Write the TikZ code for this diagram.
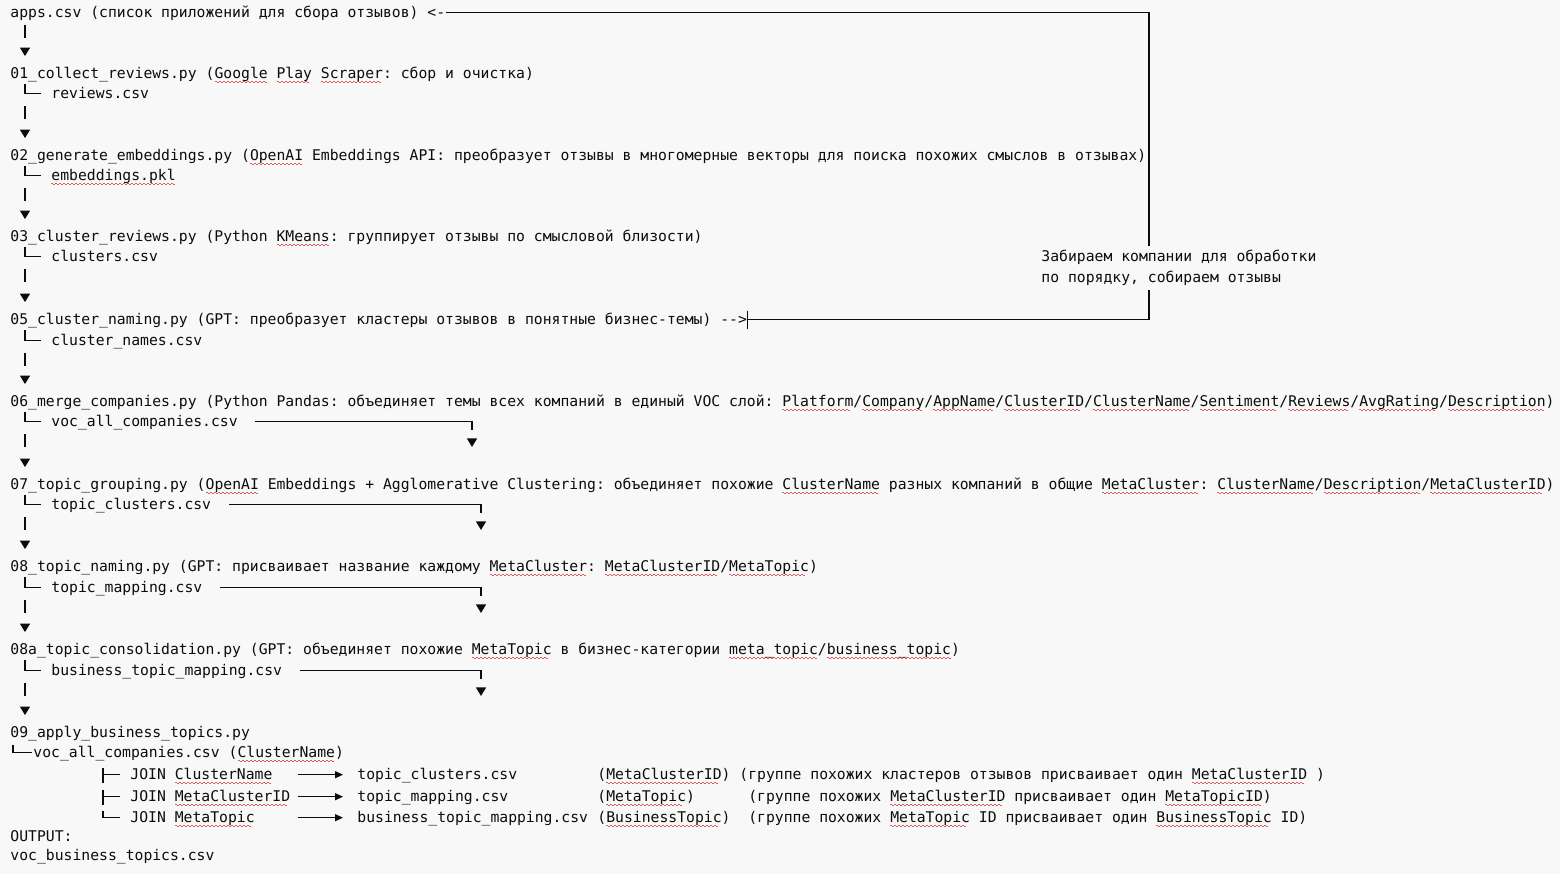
\documentclass[tikz,border=0pt]{standalone}
\usepackage{fontspec}
\usepackage{tikz}
\usetikzlibrary{arrows.meta, calc}

\newfontfamily\codefont{DejaVu Sans Mono}
\definecolor{paper}{HTML}{F8F8F8}
\definecolor{ink}{HTML}{0C0C0C}
\definecolor{spellred}{HTML}{E05A5A}

% red spell-check squiggle under a word
\newsavebox\typobox
\newcommand\typo[1]{\sbox\typobox{#1}\rlap{\textcolor{spellred}{\leaders\hbox to 2pt{\vrule width 1pt height -1.5pt depth 2pt\vrule width 1pt height -2pt depth 2.5pt}\hskip\wd\typobox}}\usebox\typobox}

\begin{document}
\begin{tikzpicture}[
  x=0.5pt, y=-0.5pt,
  codeline/.style={anchor=base west, inner sep=0pt, text height=5.5pt, text depth=1.8pt, text=ink, font=\codefont\fontsize{7.37pt}{9pt}\selectfont\frenchspacing},
  note/.style={codeline, fill=paper, inner ysep=2pt, inner xsep=1pt},
  flow/.style={-{Triangle[width=5pt, length=4.3pt]}, line width=0.75pt, ink, dash pattern=on 6.5pt off 40pt, shorten <=2pt, shorten >=5.25pt},
  branch/.style={line width=0.7pt, ink},
  sideflow/.style={{Triangle[width=5pt, length=4.3pt]}-, line width=0.6pt, ink, dash pattern=on 2000pt off 4.5pt, dash phase=2000pt},
  loopline/.style={line width=0.6pt, ink},
  joinarrow/.style={-{Triangle[width=3.5pt, length=4pt]}, line width=0.6pt, ink, shorten >=7pt}
]
  \fill[paper] (0,0) rectangle (1560,874);
  \useasboundingbox (0,0) rectangle (1560,874);

  % pipeline scripts and their outputs
  \node[codeline] (apps) at (10,17) {apps.csv (список приложений для сбора отзывов) <-};
  \node[codeline] (s01) at (10,78) {01\_collect\_reviews.py (\typo{Google} \typo{Play} \typo{Scraper}: сбор и очистка)};
  \node[codeline] (f01) at (51,98) {reviews.csv};
  \node[codeline] (s02) at (10,160) {02\_generate\_embeddings.py (\typo{OpenAI} Embeddings API: преобразует отзывы в многомерные векторы для поиска похожих смыслов в отзывах)};
  \node[codeline] (f02) at (51,180) {\typo{embeddings.pkl}};
  \node[codeline] (s03) at (10,241) {03\_cluster\_reviews.py (Python \typo{KMeans}: группирует отзывы по смысловой близости)};
  \node[codeline] (f03) at (51,261) {clusters.csv};
  \node[codeline] (s05) at (10,324) {05\_cluster\_naming.py (GPT: преобразует кластеры отзывов в понятные бизнес-темы) -{}->};
  \node[codeline] (f05) at (51,345) {cluster\_names.csv};
  \node[codeline] (s06) at (10,406) {06\_merge\_companies.py (Python Pandas: объединяет темы всех компаний в единый VOC слой: \typo{Platform}/\typo{Company}/\typo{AppName}/\typo{ClusterID}/\typo{ClusterName}/\typo{Sentiment}/\typo{Reviews}/\typo{AvgRating}/\typo{Description})};
  \node[codeline] (f06) at (51,426) {voc\_all\_companies.csv};
  \node[codeline] (s07) at (10,489) {07\_topic\_grouping.py (\typo{OpenAI} Embeddings + Agglomerative Clustering: объединяет похожие \typo{ClusterName} разных компаний в общие \typo{MetaCluster}: \typo{ClusterName}/\typo{Description}/\typo{MetaClusterID})};
  \node[codeline] (f07) at (51,509) {topic\_clusters.csv};
  \node[codeline] (s08) at (10,571) {08\_topic\_naming.py (GPT: присваивает название каждому \typo{MetaCluster}: \typo{MetaClusterID}/\typo{MetaTopic})};
  \node[codeline] (f08) at (51,592) {topic\_mapping.csv};
  \node[codeline] (s08a) at (10,654) {08a\_topic\_consolidation.py (GPT: объединяет похожие \typo{MetaTopic} в бизнес-категории \typo{meta\_topic}/\typo{business\_topic})};
  \node[codeline] (f08a) at (51,675) {business\_topic\_mapping.csv};
  \node[codeline] (s09) at (10,737) {09\_apply\_business\_topics.py};
  \node[codeline] (f09) at (33,757) {voc\_all\_companies.csv (\typo{ClusterName})};

  % joins
  \node[codeline] (j1) at (130,779) {JOIN \typo{ClusterName}};
  \node[codeline] (j2) at (130,801) {JOIN \typo{MetaClusterID}};
  \node[codeline] (j3) at (130,822) {JOIN \typo{MetaTopic}};
  \node[codeline] (t1) at (357,779) {topic\_clusters.csv};
  \node[codeline] (t2) at (357,801) {topic\_mapping.csv};
  \node[codeline] (t3) at (357,822) {business\_topic\_mapping.csv};
  \node[codeline] (k1) at (597,779) {(\typo{MetaClusterID}) (группе похожих кластеров отзывов присваивает один \typo{MetaClusterID} )};
  \node[codeline] (k2) at (597,801) {(\typo{MetaTopic})~~~~~~(группе похожих \typo{MetaClusterID} присваивает один \typo{MetaTopicID})};
  \node[codeline] (k3) at (597,822) {(\typo{BusinessTopic})~~(группе похожих \typo{MetaTopic} ID присваивает один \typo{BusinessTopic} ID)};
  \node[codeline] (out) at (10,841) {OUTPUT:};
  \node[codeline] (res) at (10,860) {voc\_business\_topics.csv};

  % main flow down the left side
  \coordinate (fx) at (25,0);
  \draw[flow] (fx |- apps.south) -- (fx |- s01.north);
  \draw[flow] (fx |- f01.south) -- (fx |- s02.north);
  \draw[flow] (fx |- f02.south) -- (fx |- s03.north);
  \draw[flow] (fx |- f03.south) -- (fx |- s05.north);
  \draw[flow] (fx |- f05.south) -- (fx |- s06.north);
  \draw[flow] (fx |- f06.south) -- (fx |- s07.north);
  \draw[flow] (fx |- f07.south) -- (fx |- s08.north);
  \draw[flow] (fx |- f08.south) -- (fx |- s08a.north);
  \draw[flow] (fx |- f08a.south) -- (fx |- s09.north);

  % script -> output branches
  \draw[branch, shorten <=1.2pt] (fx |- s01.south) |- ([xshift=-5pt]f01.mid west);
  \draw[branch, shorten <=1.2pt] (fx |- s02.south) |- ([xshift=-5pt]f02.mid west);
  \draw[branch, shorten <=1.2pt] (fx |- s03.south) |- ([xshift=-5pt]f03.mid west);
  \draw[branch, shorten <=1.2pt] (fx |- s05.south) |- ([xshift=-5pt]f05.mid west);
  \draw[branch, shorten <=1.2pt] (fx |- s06.south) |- ([xshift=-5pt]f06.mid west);
  \draw[branch, shorten <=1.2pt] (fx |- s07.south) |- ([xshift=-5pt]f07.mid west);
  \draw[branch, shorten <=1.2pt] (fx |- s08.south) |- ([xshift=-5pt]f08.mid west);
  \draw[branch, shorten <=1.2pt] (fx |- s08a.south) |- ([xshift=-5pt]f08a.mid west);
  \draw[branch, shorten <=2pt] ([xshift=1.5pt]s09.south west) |- ([xshift=-0.5pt]f09.mid west);

  % outputs passed on to the later join
  \coordinate (c06) at (472,447);
  \coordinate (c07) at (481,530);
  \coordinate (c08) at (481,613);
  \coordinate (c08a) at (481,696);
  \draw[sideflow] (c06) |- ([xshift=8.5pt]f06.mid east);
  \draw[sideflow] (c07) |- ([xshift=8.5pt]f07.mid east);
  \draw[sideflow] (c08) |- ([xshift=8.5pt]f08.mid east);
  \draw[sideflow] (c08a) |- ([xshift=8.5pt]f08a.mid east);

  % loop back to apps.csv
  \coordinate (loopx) at (1149,0);
  \draw[loopline] (s05.mid east) -| (loopx |- apps.mid east) -- (apps.mid east);
  \draw[loopline] ([yshift=4.5pt]s05.mid east) -- ([yshift=-4.5pt]s05.mid east);
  \node[note] (note1) at (1039,261) {Забираем компании для обработки};
  \node[note] (note2) at (1039,282) {по порядку, собираем отзывы};

  % join tree
  \coordinate (jt) at (103,0);
  \coordinate (ja) at (298,0);
  \draw[branch] (jt |- j1.north) -- (jt |- j1.south) (jt |- j1.mid west) -- ([xshift=-5pt]j1.mid west);
  \draw[branch] (jt |- j2.north) -- (jt |- j2.south) (jt |- j2.mid west) -- ([xshift=-5pt]j2.mid west);
  \draw[branch] (jt |- j3.north) |- ([xshift=-5pt]j3.mid west);
  \draw[joinarrow] (ja |- t1.mid west) -- (t1.mid west);
  \draw[joinarrow] (ja |- t2.mid west) -- (t2.mid west);
  \draw[joinarrow] (ja |- t3.mid west) -- (t3.mid west);
\end{tikzpicture}
\end{document}
